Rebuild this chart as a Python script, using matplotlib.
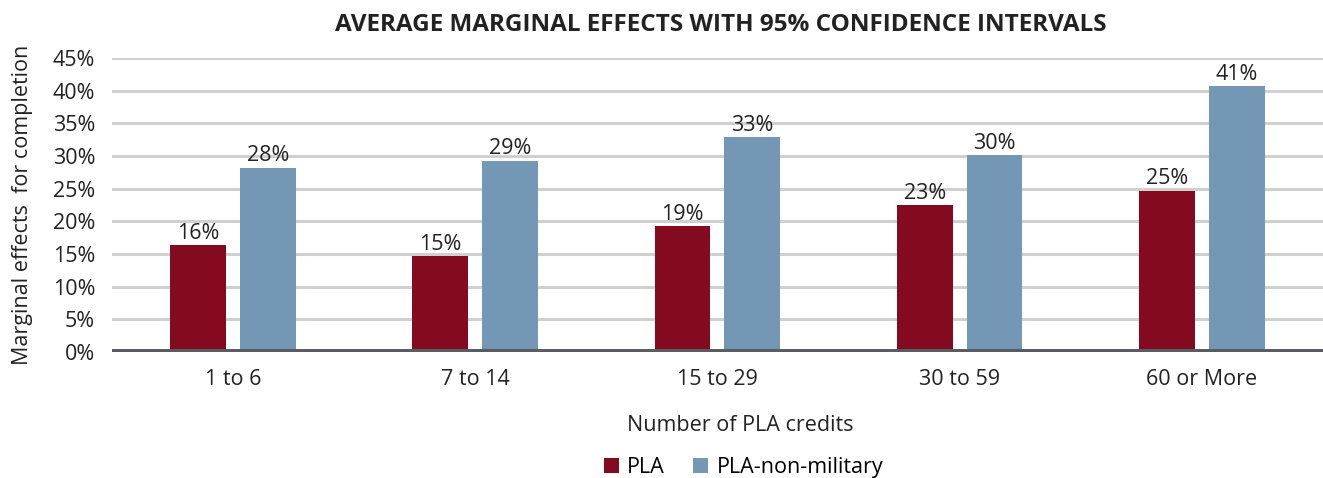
import matplotlib.pyplot as plt
import numpy as np
from matplotlib.ticker import FuncFormatter

plt.rcParams["font.family"] = ["Open Sans", "DejaVu Sans"]

categories = ["1 to 6", "7 to 14", "15 to 29", "30 to 59", "60 or More"]
pla = [0.164, 0.147, 0.193, 0.225, 0.247]
pla_non_military = [0.282, 0.293, 0.329, 0.301, 0.407]
pla_labels = ["16%", "15%", "19%", "23%", "25%"]
non_mil_labels = ["28%", "29%", "33%", "30%", "41%"]

fig = plt.figure(figsize=(13.23, 4.78), dpi=100)
ax = fig.add_axes([0.0845, 0.2636, 0.9155, 0.615])

x = np.arange(len(categories))
width = 0.23
offset = 0.144

b1 = ax.bar(x - offset, pla, width, color="#840a1f", label="PLA", zorder=3)
b2 = ax.bar(x + offset, pla_non_military, width, color="#7497b5",
            label="PLA-non-military", zorder=3)

for bars, labels in ((b1, pla_labels), (b2, non_mil_labels)):
    for bar, lab in zip(bars, labels):
        ax.text(bar.get_x() + bar.get_width() / 2, bar.get_height() + 0.002,
                lab, ha="center", va="bottom", fontsize=15.5, color="#222222")

ax.set_xlim(-0.5, len(categories) - 0.5)
ax.set_ylim(0, 0.45)
ax.set_yticks(np.arange(0, 0.46, 0.05))
ax.yaxis.set_major_formatter(FuncFormatter(lambda v, _: f"{v * 100:.0f}%"))
ax.grid(axis="y", color="#d0d0d0", linewidth=2.2, zorder=0)
ax.axhline(0, color="#595c61", linewidth=5, zorder=4)

for spine in ax.spines.values():
    spine.set_visible(False)
ax.tick_params(axis="both", length=0, labelsize=15.5, colors="#222222")
ax.tick_params(axis="x", pad=12)
ax.tick_params(axis="y", pad=12)
ax.set_xticks(x)
ax.set_xticklabels(categories)

ax.set_ylabel("Marginal effects  for completion", fontsize=15.5, color="#222222",
              labelpad=14)
ax.set_xlabel("Number of PLA credits", fontsize=15.5, color="#222222")
ax.xaxis.set_label_coords(0.519, -0.215)
fig.text(0.545, 0.947, "AVERAGE MARGINAL EFFECTS WITH 95% CONFIDENCE INTERVALS",
         ha="center", va="center", fontsize=17.5, fontweight="bold", color="#222222")

fig.legend(loc="center", bbox_to_anchor=(0.562, 0.022), ncol=2, frameon=False,
           fontsize=15.5, handlelength=0.7, handleheight=0.7, handletextpad=0.4,
           columnspacing=1.3)

fig.savefig("out.png", dpi=100)
